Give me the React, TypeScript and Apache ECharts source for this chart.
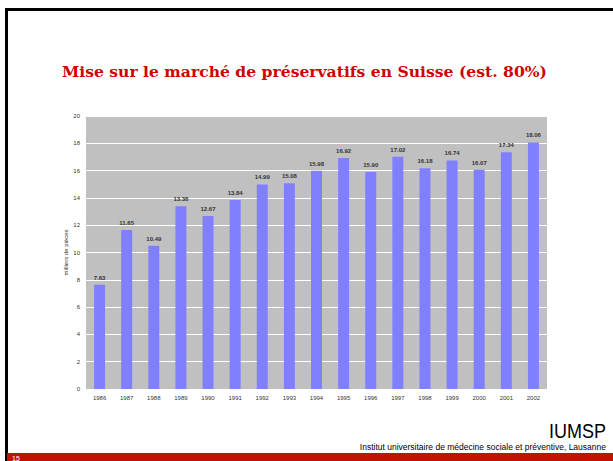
import React, { useEffect, useRef } from "react";
import * as echarts from "echarts";

const years = ["1986","1987","1988","1989","1990","1991","1992","1993","1994","1995","1996","1997","1998","1999","2000","2001","2002"];
const values = [7.63, 11.65, 10.49, 13.38, 12.67, 13.84, 14.99, 15.08, 15.98, 16.92, 15.90, 17.02, 16.18, 16.74, 16.07, 17.34, 18.06];
const titleText = "Mise sur le marché de préservatifs en Suisse (est. 80%)";
const yAxisName = "milliers de pièces";
const logoText = "IUMSP";
const instituteText = "Institut universitaire de médecine sociale et préventive, Lausanne";
const slideNumber = "15";

export default function App() {
  const ref = useRef<HTMLDivElement>(null);
  useEffect(() => {
    document.body.style.margin = "0";
    const chart = echarts.init(ref.current!, null, { renderer: "svg" });
    chart.setOption({
      animation: false,
      backgroundColor: "#ffffff",
      grid: {
        left: 86, right: 66, top: 116, bottom: 72,
        show: true, backgroundColor: "#C0C0C0", borderWidth: 0,
      },
      xAxis: {
        type: "category",
        data: years,
        axisLine: { show: false },
        axisTick: { show: false },
        axisLabel: { fontSize: 6, color: "#333", margin: 6, fontFamily: "Liberation Sans" },
      },
      yAxis: {
        type: "value",
        min: 0, max: 20, interval: 2,
        name: yAxisName,
        nameLocation: "middle",
        nameRotate: 90,
        nameGap: 17,
        nameMoveOverlap: false,
        nameTextStyle: { fontSize: 6, color: "#333", fontFamily: "Liberation Sans" },
        axisLine: { show: false },
        axisTick: { show: false },
        splitLine: { lineStyle: { color: "#ffffff", width: 1 } },
        axisLabel: { fontSize: 6, color: "#333", margin: 6, fontFamily: "Liberation Sans" },
      },
      series: [{
        type: "bar",
        data: values,
        barWidth: 11,
        itemStyle: { color: "#8080FF" },
        label: {
          show: true, position: "top", distance: 4,
          fontSize: 6, fontWeight: "bold", color: "#333", fontFamily: "Liberation Sans",
          formatter: (p: any) => Number(p.value).toFixed(2),
        },
      }],
      graphic: [
        { type: "rect", shape: { x: 5, y: 8, width: 608, height: 3 }, style: { fill: "#000" } },
        { type: "rect", shape: { x: 5, y: 8, width: 3, height: 453 }, style: { fill: "#000" } },
        { type: "rect", shape: { x: 7, y: 453, width: 606, height: 8 }, style: { fill: "#C41200" } },
        { type: "text", x: 12, y: 455, style: { text: slideNumber, fill: "#fff", fontSize: 7, fontFamily: "Liberation Sans" } },
        {
          type: "text", x: 62, y: 71,
          style: {
            text: titleText, fill: "#D00000", fontSize: 15.6, fontWeight: "bold",
            fontFamily: "DejaVu Serif", verticalAlign: "middle",
          },
        },
        {
          type: "text", x: 606, y: 431, scaleY: 1.15,
          style: { text: logoText, fill: "#000", fontSize: 18, fontFamily: "Liberation Sans", align: "right", verticalAlign: "middle" },
        },
        {
          type: "text", x: 606, y: 447,
          style: { text: instituteText, fill: "#000", fontSize: 8.5, fontFamily: "Liberation Sans", align: "right", verticalAlign: "middle" },
        },
      ],
    });
    return () => chart.dispose();
  }, []);
  return <div ref={ref} style={{ width: 613, height: 461 }} />;
}
